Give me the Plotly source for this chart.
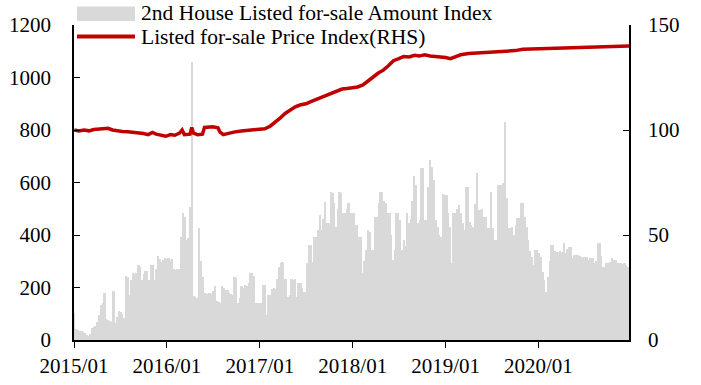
import pandas as pd
import plotly.graph_objects as go

# ---- data: weekly listed-for-sale amount index (left axis) ----
amount_2015 = [104, 41, 38, 36, 34, 30, 25, 20, 15, 22, 44, 50, 53, 70, 95, 135, 140, 178, 80, 75,
               72, 70, 185, 65, 89, 110, 105, 100, 85, 243, 240, 171, 230, 254, 250, 254, 286, 280, 228, 250,
               264, 262, 228, 286, 286, 228, 270, 320, 310, 299, 305, 311]
amount_2016 = [310, 312, 305, 308, 270, 268, 270, 272, 394, 483, 470, 381, 390, 508, 1060, 168, 165, 159, 425, 300,
               241, 178, 178, 176, 178, 175, 185, 206, 150, 146, 140, 206, 200, 190, 190, 180, 175, 170, 239, 235,
               140, 160, 206, 200, 210, 206, 216, 254, 254, 245, 140, 140]
amount_2017 = [140, 140, 210, 210, 95, 171, 171, 196, 200, 196, 231, 280, 295, 299, 234, 234, 165, 170, 234, 230,
               234, 165, 216, 216, 200, 184, 184, 292, 362, 362, 299, 394, 394, 420, 476, 419, 460, 527, 444, 444,
               565, 560, 521, 432, 500, 565, 560, 483, 483, 500, 521, 483]
amount_2018 = [483, 483, 438, 438, 394, 394, 254, 300, 343, 419, 410, 343, 343, 470, 470, 521, 565, 565, 530, 521,
               483, 483, 400, 305, 343, 483, 483, 457, 343, 381, 360, 483, 445, 460, 530, 623, 590, 445, 457, 654,
               654, 457, 457, 584, 686, 660, 610, 457, 429, 400, 394, 558]
amount_2019 = [552, 552, 483, 432, 292, 483, 483, 500, 514, 483, 445, 419, 584, 584, 451, 440, 430, 520, 636, 495,
               495, 500, 470, 470, 426, 426, 565, 426, 381, 381, 590, 590, 590, 600, 832, 540, 426, 426, 430, 400,
               440, 464, 464, 521, 521, 470, 430, 381, 340, 318, 286, 343]
amount_2020 = [343, 330, 318, 260, 230, 184, 241, 300, 362, 362, 340, 336, 336, 340, 335, 371, 330, 345, 355, 355,
               311, 324, 324, 324, 320, 315, 315, 315, 318, 305, 311, 311, 292, 300, 368, 368, 320, 279, 279, 292,
               292, 298, 311, 305, 305, 292, 292, 292, 290, 292, 286, 280]

amount_values = amount_2015 + amount_2016 + amount_2017 + amount_2018 + amount_2019 + amount_2020
amount_dates = pd.date_range("2015-01-03", periods=len(amount_values), freq="7D")

# ---- data: listed-for-sale price index (right axis) ----
price_dates = [
    "2015-01-02", "2015-01-20", "2015-02-10", "2015-03-01", "2015-03-20", "2015-04-10", "2015-05-01",
    "2015-05-15", "2015-06-01", "2015-06-20", "2015-07-10", "2015-08-01", "2015-08-20", "2015-09-10",
    "2015-10-01", "2015-10-20", "2015-11-05", "2015-11-20", "2015-12-10", "2015-12-28", "2016-01-15",
    "2016-02-01", "2016-02-20", "2016-03-01", "2016-03-10", "2016-04-01", "2016-04-08", "2016-04-15",
    "2016-05-01", "2016-05-20", "2016-05-28", "2016-06-30", "2016-07-20", "2016-07-28", "2016-08-10",
    "2016-08-25", "2016-09-20", "2016-10-20", "2016-11-20", "2016-12-20", "2017-01-20", "2017-02-10",
    "2017-03-01", "2017-03-20", "2017-04-10", "2017-05-01", "2017-05-20", "2017-06-10", "2017-07-01",
    "2017-07-20", "2017-08-10", "2017-09-01", "2017-09-20", "2017-10-10", "2017-11-01", "2017-11-20",
    "2017-12-10", "2018-01-01", "2018-01-20", "2018-02-10", "2018-03-01", "2018-03-20", "2018-04-10",
    "2018-05-01", "2018-05-20", "2018-06-10", "2018-07-01", "2018-07-20", "2018-08-10", "2018-09-01",
    "2018-09-20", "2018-10-10", "2018-11-01", "2018-11-20", "2018-12-10", "2019-01-01", "2019-01-20",
    "2019-02-10", "2019-03-01", "2019-04-01", "2019-05-01", "2019-06-01", "2019-07-01", "2019-08-01",
    "2019-09-01", "2019-10-01", "2019-11-01", "2019-12-01", "2020-01-01", "2020-02-01", "2020-03-01",
    "2020-04-01", "2020-05-01", "2020-06-01", "2020-07-01", "2020-08-01", "2020-09-01", "2020-10-01",
    "2020-11-01", "2020-12-01", "2020-12-28",
]
price_values = [
    100, 99.5, 100, 99.6, 100.2, 100.5, 101,
    100.8, 100, 99.5, 99.3, 99.2, 99, 98.6,
    98.3, 97.8, 98.8, 98, 97.4, 97, 97.8,
    97.5, 98.5, 100, 97.8, 98, 101.2, 98.5,
    97.8, 98, 101.2, 101.5, 101, 99, 97.8,
    98.3, 99, 99.5, 100, 100.4, 100.6, 101.8,
    103.5, 105.5, 107.9, 109.5, 111, 112, 112.5,
    113.5, 114.5, 115.5, 116.5, 117.5, 118.7, 119.5,
    119.8, 120, 120.5, 121.5, 123.5, 125, 127,
    128.5, 130.5, 133, 134, 135, 134.8, 135.6,
    135.2, 135.8, 135.2, 135, 135, 134.5, 134,
    135, 135.8, 136.4, 136.6, 137, 137.2, 137.5,
    137.6, 137.8, 138.4, 138.5, 138.6, 138.7, 138.8,
    138.9, 139, 139.2, 139.4, 139.6, 139.8, 139.9,
    140, 140, 140,
]

bar_name = "2nd House Listed for-sale Amount Index"
line_name = "Listed for-sale Price Index(RHS)"

BAR_COLOR = "#d9d9d9"
LINE_COLOR = "#c00000"
FONT = "Liberation Serif"

fig = go.Figure()
fig.add_trace(go.Bar(x=amount_dates, y=amount_values, name=bar_name,
                     marker=dict(color=BAR_COLOR, line=dict(width=0)), yaxis="y"))
fig.add_trace(go.Scatter(x=price_dates, y=price_values, name=line_name, mode="lines",
                         line=dict(color=LINE_COLOR, width=3.5), yaxis="y2"))

end_date = amount_dates[-1] + pd.Timedelta(days=3)

# target plot area in pixels: x 74..629, y 25..340
def px_x(p):
    return (p - 74) / 555.0

def px_y(p):
    return (340 - p) / 315.0

shapes = [
    dict(type="rect", xref="paper", yref="paper",
         x0=px_x(77), x1=px_x(135), y0=px_y(21), y1=px_y(6.5),
         fillcolor=BAR_COLOR, line=dict(width=0), layer="above"),
    dict(type="line", xref="paper", yref="paper",
         x0=px_x(77), x1=px_x(135), y0=px_y(36.5), y1=px_y(36.5),
         line=dict(color=LINE_COLOR, width=4), layer="above"),
]
annotations = [
    dict(text=bar_name, xref="paper", yref="paper", x=px_x(139), y=px_y(12.8),
         xanchor="left", yanchor="middle", showarrow=False,
         font=dict(family=FONT, size=21.5, color="black")),
    dict(text=line_name, xref="paper", yref="paper", x=px_x(139), y=px_y(37.3),
         xanchor="left", yanchor="middle", showarrow=False,
         font=dict(family=FONT, size=21.5, color="black")),
]

fig.update_layout(
    width=701, height=385,
    margin=dict(l=74, r=701 - 629, t=25, b=385 - 340, autoexpand=False),
    paper_bgcolor="white", plot_bgcolor="white",
    font=dict(family=FONT, size=21, color="black"),
    bargap=0,
    showlegend=False,
    hovermode=False,
    shapes=shapes,
    annotations=annotations,
    xaxis=dict(type="date", range=["2015-01-01", end_date],
               tick0="2015-01-01", dtick="M12", tickformat="%Y/%m",
               showline=True, linecolor="black", linewidth=1.5,
               ticks="outside", ticklen=6, tickcolor="black",
               showgrid=False, zeroline=False),
    yaxis=dict(range=[0, 1200], dtick=200,
               showline=True, linecolor="black", linewidth=1.5,
               ticks="inside", ticklen=6, tickcolor="black",
               ticklabelstandoff=17,
               showgrid=False, zeroline=False),
    yaxis2=dict(range=[0, 150], dtick=50, overlaying="y", side="right",
                showline=True, linecolor="black", linewidth=1.5,
                ticks="inside", ticklen=6, tickcolor="black",
                ticklabelstandoff=13,
                showgrid=False, zeroline=False),
)

fig.write_html("out.html", config={"displayModeBar": False},
               post_script="document.body.style.margin='0px';")
